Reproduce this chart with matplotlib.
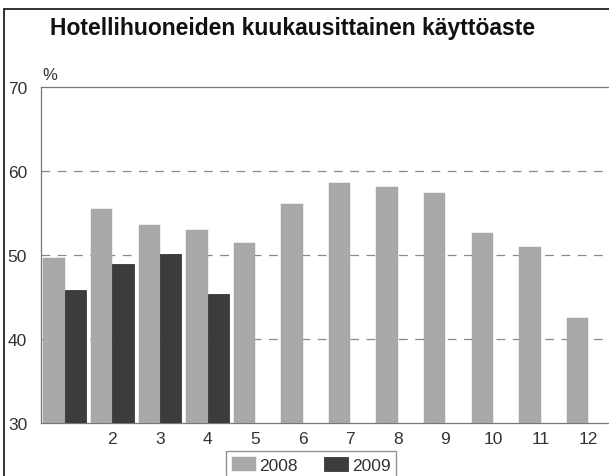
import numpy as np
import matplotlib
matplotlib.use("Agg")
import matplotlib.pyplot as plt
from matplotlib.patches import Rectangle

plt.rcParams["font.family"] = ["Liberation Sans", "DejaVu Sans"]

# data
months = [1, 2, 3, 4, 5, 6, 7, 8, 9, 10, 11, 12]
month_labels = ["", "2", "3", "4", "5", "6", "7", "8", "9", "10", "11", "12"]
vals_2008 = [49.6, 55.5, 53.6, 53.0, 51.4, 56.1, 58.6, 58.1, 57.4, 52.6, 50.9, 42.5]
months_2009 = [1, 2, 3, 4]
vals_2009 = [45.8, 48.9, 50.1, 45.3]
yticks = [30, 40, 50, 60, 70]

fig = plt.figure(figsize=(6.09, 4.77), dpi=100)
ax = fig.add_axes([41 / 609, 1 - 424 / 477, 571 / 609, 336 / 477])

w = 0.45
x08 = np.array(months) - w / 2
x09 = np.array(months_2009) + w / 2
ax.bar(x08, np.array(vals_2008) - 30, bottom=30, width=w, color="#a9a9a9",
       edgecolor="#a0a0a0", linewidth=0.3, label="2008", zorder=3)
ax.bar(x09, np.array(vals_2009) - 30, bottom=30, width=w, color="#3c3c3c",
       edgecolor="#222222", linewidth=0.5, label="2009", zorder=3)

ax.set_xlim(0.5, 12.5)
ax.set_ylim(30, 70)
ax.set_yticks(yticks)
ax.set_xticks(months)
ax.set_xticklabels(month_labels)
ax.tick_params(axis="both", length=0, labelsize=12.5, colors="#333333")
ax.tick_params(axis="y", pad=10)
ax.tick_params(axis="x", pad=6)

for y in [40, 50, 60]:
    ax.axhline(y, color="#8a8a8a", linewidth=0.9, dashes=(7, 6), zorder=1)

for s in ["left", "bottom", "top"]:
    ax.spines[s].set_color("#777777")
    ax.spines[s].set_linewidth(0.9)
ax.spines["right"].set_visible(False)

fig.text(42 / 609, 1 - 75 / 477, "%", fontsize=12, color="#333333", va="center")
fig.text(50 / 609, 1 - 29 / 477, "Hotellihuoneiden kuukausittainen käyttöaste",
         fontsize=16.5, fontweight="bold", va="center", color="#111111")

# outer frame
fig.add_artist(Rectangle((4 / 609, -0.1), 1.2, 1 - 10 / 477 + 0.1, transform=fig.transFigure,
                         fill=False, edgecolor="#222222", linewidth=1.3))

fig.legend(loc="lower center", bbox_to_anchor=(311 / 609, -0.025), ncol=2, fontsize=12.5,
           frameon=True, fancybox=False, edgecolor="#777777", handlelength=1.4,
           handleheight=0.8, handletextpad=0.2, columnspacing=1.5, borderpad=0.35,
           borderaxespad=0.5, labelcolor="#333333")

fig.savefig("out.png", dpi=100)
